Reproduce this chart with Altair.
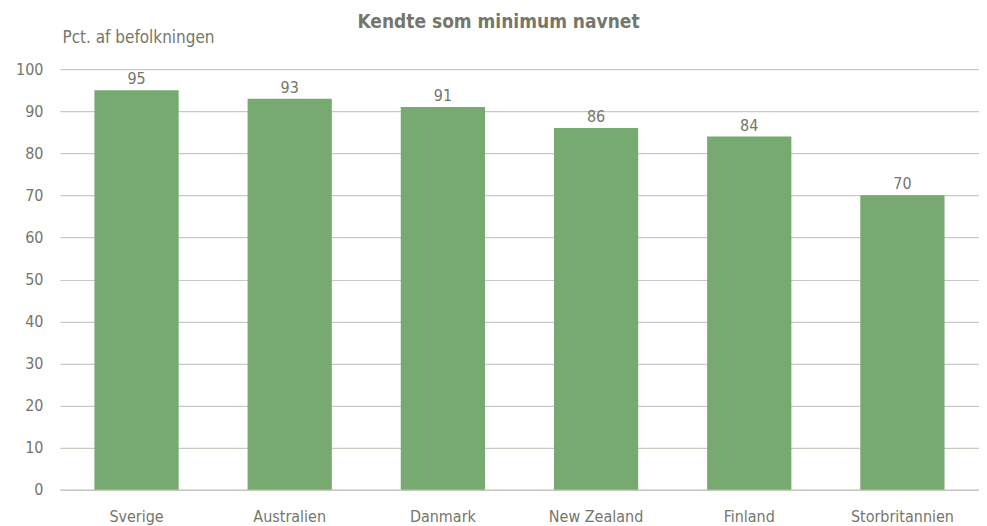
import altair as alt
import pandas as pd

countries = ["Sverige", "Australien", "Danmark", "New Zealand", "Finland", "Storbritannien"]
values = [95, 93, 91, 86, 84, 70]

df = pd.DataFrame({"land": countries, "pct": values})

FONT = "Liberation Sans Narrow, Arial Narrow, Noto Sans Condensed, DejaVu Sans Condensed, sans-serif"
TXT = "#76766a"
GRID = "#c9c9bf"
BAR = "#77aa71"

x = alt.X("land:N", sort=countries, title=None,
          scale=alt.Scale(paddingInner=0.45, paddingOuter=0.225),
          axis=alt.Axis(labelAngle=0, ticks=False, domain=True, domainColor=GRID,
                        domainWidth=1.5, labelPadding=19, labelFontSize=16,
                        labelColor=TXT, labelFont=FONT, grid=False))
y = alt.Y("pct:Q", scale=alt.Scale(domain=[0, 100]),
          axis=alt.Axis(values=list(range(0, 101, 10)), ticks=False, domain=False,
                        grid=True, gridColor=GRID, gridWidth=1.2,
                        labelPadding=17, labelFontSize=16, labelColor=TXT, labelFont=FONT,
                        title="Pct. af befolkningen", titleAngle=0, titleX=2, titleY=-32,
                        titleAlign="left", titleBaseline="middle", titleFont=FONT,
                        titleFontSize=17, titleFontWeight="normal", titleColor=TXT))

bars = alt.Chart(df).mark_bar(color=BAR).encode(x=x, y=y)
labels = alt.Chart(df).mark_text(baseline="bottom", dy=-3, fontSize=16, font=FONT,
                                 color=TXT).encode(x=alt.X("land:N", sort=countries),
                                                   y="pct:Q", text="pct:Q")

chart = (bars + labels).properties(
    width=920, height=421,
    autosize=alt.AutoSizeParams(type="none"),
    padding={"left": 52, "top": 61, "right": 0, "bottom": 36},
    title=alt.TitleParams("Kendte som minimum navnet", font=FONT, fontSize=19,
                          fontWeight="bold", color=TXT, anchor="middle", dx=-21,
                          dy=4, offset=0),
).configure(background="white").configure_view(stroke=None, strokeWidth=0)

chart.save("out.html", embed_options={"renderer": "svg", "actions": False})
